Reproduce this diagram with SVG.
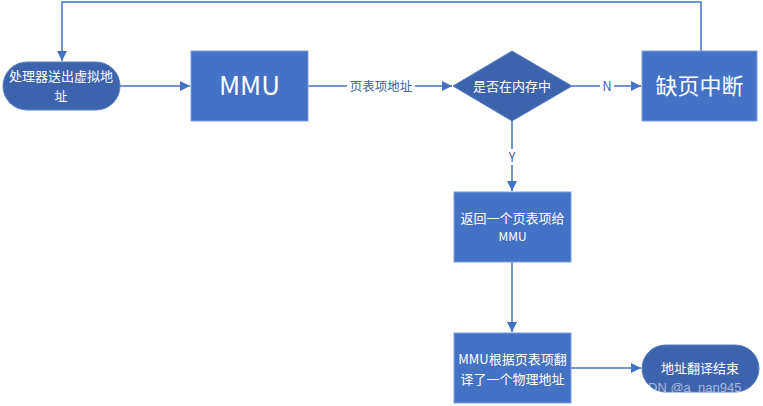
<svg xmlns="http://www.w3.org/2000/svg" width="763" height="406" viewBox="0 0 763 406">
<defs>
<marker id="ah" viewBox="0 0 10 10" refX="10" refY="5" markerWidth="10" markerHeight="10" markerUnits="userSpaceOnUse" orient="auto"><path d="M0,0 L10,5 L0,10 z" fill="#4472c4"/></marker>
<style>
.box{fill:#4472c4;stroke:#7f9fd8;stroke-width:1}
.dk{fill:#3c64ad;stroke:#5b7fc4;stroke-width:1}
.t{fill:#fff;font-family:"Microsoft YaHei","Noto Sans CJK SC","Liberation Sans",sans-serif;text-anchor:middle}
.ln{fill:none;stroke:#4472c4;stroke-width:1.5}
.lb{fill:#3f5f9f;font-family:"Noto Sans CJK SC","Liberation Sans",sans-serif;font-size:12.5px;text-anchor:middle}
</style>
</defs>
<rect width="763" height="406" fill="#fff"/>
<g id="connectors">
<path class="ln" d="M120,86 H190" marker-end="url(#ah)"/>
<path class="ln" d="M308,86 H452" marker-end="url(#ah)"/>
<rect x="347" y="77" width="68" height="18" fill="#fff"/>
<text class="lb" x="381" y="91">页表项地址</text>
<path class="ln" d="M572,86 H641" marker-end="url(#ah)"/>
<rect x="600" y="78" width="14" height="16" fill="#fff"/>
<text class="lb" x="607" y="90.5">N</text>
<path class="ln" d="M701,51 V2 H62 V61" marker-end="url(#ah)"/>
<path class="ln" d="M512,121 V191" marker-end="url(#ah)"/>
<rect x="505" y="149" width="14" height="16" fill="#fff"/>
<text class="lb" x="512" y="161.5">Y</text>
<path class="ln" d="M512,262 V332" marker-end="url(#ah)"/>
<path class="ln" d="M571,368 H641" marker-end="url(#ah)"/>
</g>
<g id="start">
<rect class="dk" x="3" y="62" width="117" height="48" rx="24"/>
<text class="t" font-size="13" x="61" y="81">处理器送出虚拟地</text>
<text class="t" font-size="13" x="61" y="101">址</text>
</g>
<g id="mmu">
<rect class="box" x="191" y="51" width="117" height="70"/>
<text class="t" font-size="26" x="249.5" y="95">MMU</text>
</g>
<g id="decision">
<path class="dk" d="M512,51 L572,86 L512,121 L453,86 Z"/>
<text class="t" font-size="13" x="512" y="91">是否在内存中</text>
</g>
<g id="fault">
<rect class="box" x="642" y="51" width="115" height="70"/>
<text class="t" font-size="22" x="699.5" y="94">缺页中断</text>
</g>
<g id="return">
<rect class="box" x="454" y="192" width="117" height="70"/>
<text class="t" font-size="13" x="512.5" y="223">返回一个页表项给</text>
<text class="t" font-size="12" x="512.5" y="241">MMU</text>
</g>
<g id="translate">
<rect class="box" x="454" y="333" width="117" height="70"/>
<text class="t" font-size="13" x="512.5" y="364">MMU根据页表项翻</text>
<text class="t" font-size="13" x="512.5" y="384">译了一个物理地址</text>
</g>
<g id="end">
<rect class="dk" x="642" y="345" width="117" height="47" rx="23.5"/>
<text class="t" font-size="13" x="700" y="373">地址翻译结束</text>
</g>
<g id="watermark">
<text x="648" y="392" font-family="Liberation Sans,sans-serif" font-size="13" fill="#ffffff" fill-opacity="0.55">DN @a_nan945</text>
</g>
</svg>
